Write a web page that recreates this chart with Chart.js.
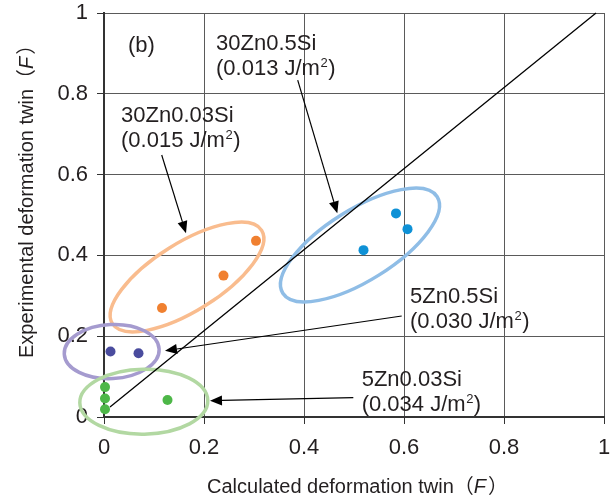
<!DOCTYPE html>
<html><head><meta charset="utf-8">
<script src="https://cdn.jsdelivr.net/npm/chart.js@4/dist/chart.umd.min.js"></script>
<style>html,body{margin:0;padding:0;background:#fff}#wrap{width:613px;height:502px;position:relative}canvas{display:block}</style>
</head><body><div id="wrap"><canvas id="c" width="613" height="502"></canvas></div>
<script>
// ---- data ----
const tickValues = [0, 0.2, 0.4, 0.6, 0.8, 1];
const tickLabels = ['0', '0.2', '0.4', '0.6', '0.8', '1'];
const seriesNames = ['30Zn0.03Si', '30Zn0.5Si', '5Zn0.5Si', '5Zn0.03Si'];
const seriesEnergy = ['(0.015 J/m²)', '(0.013 J/m²)', '(0.030 J/m²)', '(0.034 J/m²)'];
const zn30si003X = [0.116, 0.239, 0.304];
const zn30si003Y = [0.270, 0.350, 0.436];
const zn30si05X = [0.519, 0.584, 0.607];
const zn30si05Y = [0.413, 0.504, 0.465];
const zn5si05X = [0.013, 0.069];
const zn5si05Y = [0.162, 0.158];
const zn5si003X = [0.002, 0.002, 0.002, 0.127];
const zn5si003Y = [0.074, 0.046, 0.019, 0.042];
const diagX = [0.012, 0.984];
const diagY = [0.025, 1];
const panelLabel = '(b)';
const xTitle = 'Calculated deformation twin';
const yTitle = 'Experimental deformation twin';
const titleSymbol = 'F';

// ---- annotation layout (data coordinates for anchors) ----
const groupStyle = [
  {point:'#F08030', ring:'#F9BC8E'},
  {point:'#0E91D6', ring:'#8FBDE6'},
  {point:'#4A4C9E', ring:'#A59BCF'},
  {point:'#4DB748', ring:'#B2D8A2'}
];
const rings = [ // center (data), radii (px), rotation (deg)
  {g:0, cx:0.166, cy:0.3465, rx:88, ry:34, rot:32},
  {g:1, cx:0.512, cy:0.4257, rx:91, ry:35.5, rot:32},
  {g:2, cx:0.0154, cy:0.162, rx:47.5, ry:27, rot:3},
  {g:3, cx:0.0796, cy:0.038, rx:64, ry:32.5, rot:1}
];
const arrows = [ // from -> tip (data)
  {x1:0.1154, y1:0.6485, x2:0.164, y2:0.4547},
  {x1:0.3874, y1:0.834, x2:0.4666, y2:0.5042},
  {x1:0.5954, y1:0.250, x2:0.122, y2:0.164},
  {x1:0.4986, y1:0.0478, x2:0.212, y2:0.0403}
];
const labelPos = [ // left x, first baseline y (data)
  {g:0, x:0.034, y:0.731},
  {g:1, x:0.224, y:0.908},
  {g:2, x:0.612, y:0.283},
  {g:3, x:0.5154, y:0.077}
];
const panelPos = {x:0.048, y:0.903};

const FONT = '"Liberation Sans", Arial, sans-serif';
const TXT = '#231F20';

function pts(xs, ys){ return xs.map((x,i)=>({x, y:ys[i]})); }

function drawWithSup(ctx, str, x, y){
  const parts = str.split('²');
  let cx = x;
  ctx.font = '22px ' + FONT;
  ctx.fillText(parts[0], cx, y); cx += ctx.measureText(parts[0]).width + 0.5;
  if (parts.length > 1){
    ctx.font = '13px ' + FONT;
    ctx.fillText('2', cx, y - 8); cx += ctx.measureText('2').width + 0.5;
    ctx.font = '22px ' + FONT;
    ctx.fillText(parts[1], cx, y);
  }
}

const annot = {
  id:'annot',
  beforeDatasetsDraw(chart){
    const ctx = chart.ctx, xs = chart.scales.x, ys = chart.scales.y;
    ctx.save();
    ctx.lineWidth = 3.5;
    rings.forEach(r=>{
      ctx.strokeStyle = groupStyle[r.g].ring;
      ctx.beginPath();
      ctx.ellipse(xs.getPixelForValue(r.cx), ys.getPixelForValue(r.cy), r.rx, r.ry, -r.rot*Math.PI/180, 0, Math.PI*2);
      ctx.stroke();
    });
    ctx.restore();
  },
  afterDatasetsDraw(chart){
    const ctx = chart.ctx, xs = chart.scales.x, ys = chart.scales.y;
    ctx.save();
    ctx.strokeStyle = '#000'; ctx.fillStyle = '#000'; ctx.lineWidth = 1.2;
    arrows.forEach(a=>{
      const x1 = xs.getPixelForValue(a.x1), y1 = ys.getPixelForValue(a.y1);
      const x2 = xs.getPixelForValue(a.x2), y2 = ys.getPixelForValue(a.y2);
      const ang = Math.atan2(y2-y1, x2-x1), L = 12, W = 5;
      const bx = x2 - L*Math.cos(ang), by = y2 - L*Math.sin(ang);
      ctx.beginPath(); ctx.moveTo(x1,y1); ctx.lineTo(bx,by); ctx.stroke();
      ctx.beginPath();
      ctx.moveTo(x2,y2);
      ctx.lineTo(bx + W*Math.sin(ang), by - W*Math.cos(ang));
      ctx.lineTo(bx - W*Math.sin(ang), by + W*Math.cos(ang));
      ctx.closePath(); ctx.fill();
    });
    ctx.fillStyle = TXT;
    ctx.font = '22px ' + FONT;
    ctx.textAlign = 'left'; ctx.textBaseline = 'alphabetic';
    labelPos.forEach(l=>{
      const px = xs.getPixelForValue(l.x), py = ys.getPixelForValue(l.y);
      ctx.font = '22px ' + FONT;
      ctx.fillText(seriesNames[l.g], px, py);
      drawWithSup(ctx, seriesEnergy[l.g], px, py + 25);
    });
    ctx.font = '22px ' + FONT;
    ctx.fillText(panelLabel, xs.getPixelForValue(panelPos.x), ys.getPixelForValue(panelPos.y));
    ctx.restore();
  },
  afterDraw(chart){
    const ctx = chart.ctx;
    function title(text, x, y, rot){
      ctx.save();
      ctx.translate(x, y);
      if (rot) ctx.rotate(-Math.PI/2);
      ctx.fillStyle = TXT; ctx.textAlign = 'left'; ctx.textBaseline = 'alphabetic';
      let cx = 0;
      ctx.font = '20px ' + FONT; ctx.fillText(text, cx, 0); cx += ctx.measureText(text).width;
      ctx.font = '20px "Noto Sans CJK JP"'; ctx.fillText('（', cx, 0); cx += ctx.measureText('（').width;
      ctx.font = 'italic 20px ' + FONT; ctx.fillText(titleSymbol, cx, 0); cx += ctx.measureText(titleSymbol).width + 2;
      ctx.font = '20px "Noto Sans CJK JP"'; ctx.fillText('）', cx, 0);
      ctx.restore();
    }
    const ca = chart.chartArea;
    title(xTitle, ca.left + 103, 493, false);
    title(yTitle, 32.5, ca.bottom - 59, true);
  }
};

const tickFont = {family: FONT, size: 22, lineHeight: 1};

new Chart(document.getElementById('c'), {
  type: 'scatter',
  data: {
    datasets: [
      {label: seriesNames[0], data: pts(zn30si003X, zn30si003Y), backgroundColor: groupStyle[0].point, borderWidth: 0, pointRadius: 5, clip: false, order: 1},
      {label: seriesNames[1], data: pts(zn30si05X, zn30si05Y), backgroundColor: groupStyle[1].point, borderWidth: 0, pointRadius: 5, clip: false, order: 1},
      {label: seriesNames[2], data: pts(zn5si05X, zn5si05Y), backgroundColor: groupStyle[2].point, borderWidth: 0, pointRadius: 5, clip: false, order: 1},
      {label: seriesNames[3], data: pts(zn5si003X, zn5si003Y), backgroundColor: groupStyle[3].point, borderWidth: 0, pointRadius: 5, clip: false, order: 1},
      {label: 'y = x', data: pts(diagX, diagY), showLine: true, borderColor: '#000', borderWidth: 1.3, pointRadius: 0, clip: false, order: 5}
    ]
  },
  options: {
    responsive: false,
    animation: false,
    devicePixelRatio: 1,
    layout: {padding: {top: 13, right: 9, left: 0, bottom: 0}},
    plugins: {legend: {display: false}, tooltip: {enabled: false}},
    scales: {
      x: {
        type: 'linear', min: 0, max: 1, position: 'bottom',
        afterFit(s){ s.height = 85; s.paddingLeft = 0; s.paddingRight = 0; },
        afterBuildTicks(s){ s.ticks = tickValues.map(v=>({value: v})); },
        ticks: {font: tickFont, color: TXT, padding: 13, maxRotation: 0, autoSkip: false,
                callback: (v, i) => tickLabels[i]},
        grid: {color: '#5a5a5a', lineWidth: 1, tickLength: 7, tickColor: '#333', drawTicks: true},
        border: {color: '#333', width: 2}
      },
      y: {
        type: 'linear', min: 0, max: 1, position: 'left',
        afterFit(s){ s.width = 104; s.paddingTop = 0; s.paddingBottom = 0; },
        afterBuildTicks(s){ s.ticks = tickValues.map(v=>({value: v})); },
        ticks: {font: tickFont, color: TXT, padding: 9, autoSkip: false,
                callback: (v, i) => tickLabels[i]},
        grid: {color: '#5a5a5a', lineWidth: 1, tickLength: 7, tickColor: '#333', drawTicks: true},
        border: {color: '#333', width: 2}
      }
    }
  },
  plugins: [annot]
});
</script>
</body></html>
